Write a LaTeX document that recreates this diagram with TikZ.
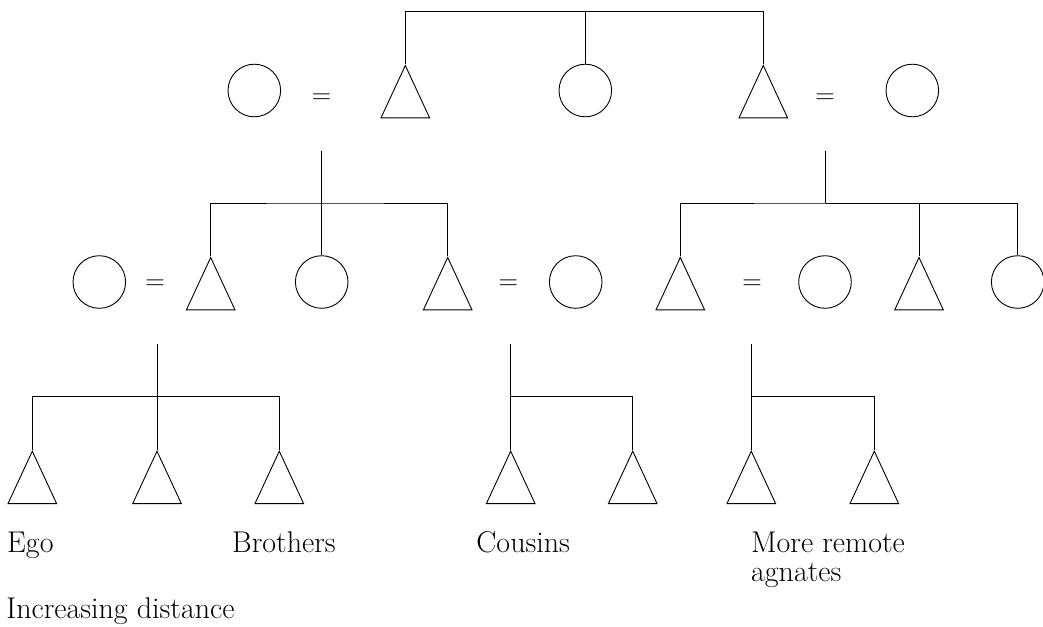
\documentclass[tikz,border=0pt]{standalone}
\usepackage{tikz}
\usetikzlibrary{shapes.geometric}

\begin{document}
\begin{tikzpicture}[x=1pt, y=-1pt, line width=0.9pt,
   male/.style={draw, isosceles triangle, shape border rotate=90, anchor=apex,
      isosceles triangle stretches, minimum width=48.6pt, minimum height=52.4pt, inner sep=0pt},
   female/.style={draw, circle, minimum size=52.6pt, inner sep=0pt},
   wed/.style={font=\fontsize{27}{27}\selectfont, inner sep=0pt},
   lbl/.style={font=\fontsize{30}{29}\selectfont, anchor=base west, inner sep=0pt, align=left}]
   \useasboundingbox (0,0) rectangle (1043,626);

   \node [female] (W1) at (254.3, 90.5) {};
   \node [wed] (E1) at (321.7, 98.5) {=};
   \node [male] (F1) at (405.3, 64.3) {};
   \node [female] (S1) at (585.3, 90.5) {};
   \node [male] (F2) at (763.3, 64.3) {};
   \node [wed] (E2) at (825, 98.5) {=};
   \node [female] (W2) at (912.3, 90.5) {};
   \coordinate (T) at (585.3, 11.7);
   \draw (F1.apex) |- (T) -| (F2.apex);
   \draw (T) -- (S1);

   \node [female] (C1) at (99.3, 282) {};
   \node [wed] (E3) at (155, 285) {=};
   \node [male] (B1) at (210.7, 256.3) {};
   \node [female] (C2) at (321.7, 282) {};
   \node [male] (B2) at (447.7, 256.3) {};
   \node [wed] (E4) at (508.3, 285) {=};
   \node [female] (C3) at (575.7, 282) {};
   \node [male] (B3) at (680.3, 256.3) {};
   \node [wed] (E5) at (752, 285) {=};
   \node [female] (C4) at (825, 282) {};
   \node [male] (B4) at (919, 256.3) {};
   \node [female] (C5) at (1017.7, 282) {};
   \coordinate (D1) at (321.7, 151);
   \coordinate (J1) at (321.7, 203);
   \draw (D1) -- (C2);
   \draw (B1.apex) |- (J1) -| (B2.apex);
   \coordinate (D2) at (825.7, 151);
   \coordinate (J2) at (825.7, 203);
   \draw (D2) -- (J2);
   \draw (B3.apex) |- (J2) -| (B4.apex);
   \draw (J2) -| (C5.north);

   \node [male] (G1) at (32.3, 450) {};
   \node [male] (G2) at (157, 450) {};
   \node [male] (G3) at (279.3, 450) {};
   \node [male] (K1) at (510.7, 450) {};
   \node [male] (K2) at (632.7, 450) {};
   \node [male] (R1) at (751.3, 450) {};
   \node [male] (R2) at (874.3, 450) {};
   \coordinate (D3) at (157, 344);
   \coordinate (J3) at (157, 396.7);
   \draw (D3) -- (G2.apex);
   \draw (G1.apex) |- (J3) -| (G3.apex);
   \coordinate (D4) at (510.7, 344);
   \coordinate (J4) at (510.7, 396.7);
   \draw (D4) -- (K1.apex);
   \draw (J4) -| (K2.apex);
   \coordinate (D5) at (751.3, 344);
   \coordinate (J5) at (751.3, 396.7);
   \draw (D5) -- (R1.apex);
   \draw (J5) -| (R2.apex);

   \node [lbl] (Ego) at (6.7, 552.7) {Ego};
   \node [lbl] (Bro) at (231.7, 552.7) {Brothers};
   \node [lbl] (Cou) at (476, 552.7) {Cousins};
   \node [lbl] (Agn) at (750.7, 581.7) {More remote\\agnates};
   \node [lbl] (Dist) at (6, 618) {Increasing distance};
\end{tikzpicture}
\end{document}
